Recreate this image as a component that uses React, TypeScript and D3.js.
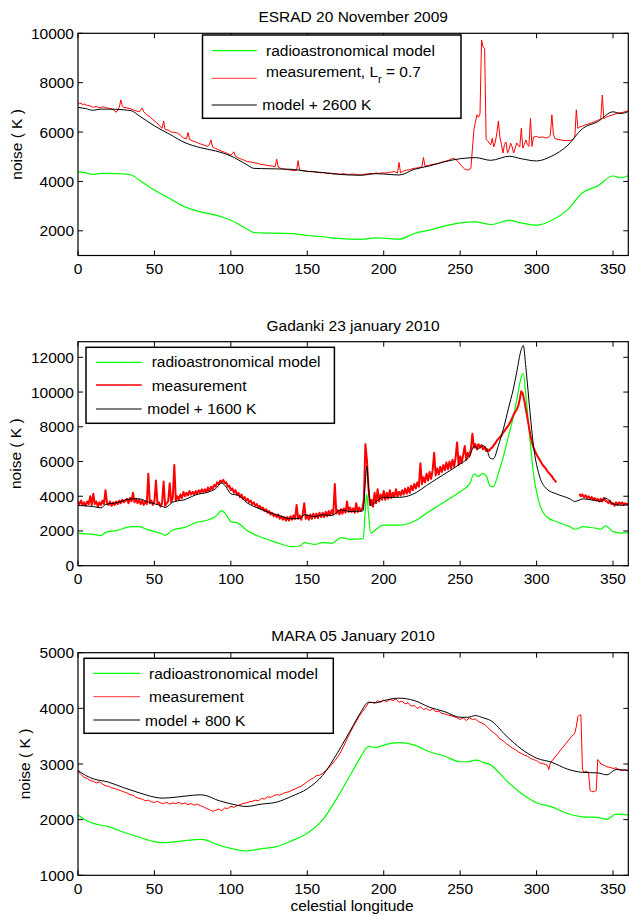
import * as d3 from "d3"

// celestial longitude ticks (shared by all panels)
const lonTicks = [0, 50, 100, 150, 200, 250, 300, 350]

// ---- ESRAD 20 November 2009 ----
const esradTicks = [2000, 4000, 6000, 8000, 10000]
const esradOffset = 2600
const esradModel: [number, number][] = [
  [0, 4400], [5, 4350], [10, 4280], [15, 4330], [20, 4330], [30, 4300], [35, 4260], [40, 4060],
  [50, 3650], [60, 3310], [70, 2970], [80, 2770], [90, 2635], [100, 2430], [110, 2095], [115, 1930],
  [120, 1920], [140, 1890], [150, 1810], [160, 1760], [170, 1690], [185, 1650], [195, 1715], [200, 1700],
  [210, 1660], [220, 1890], [230, 2030], [240, 2200], [250, 2320], [260, 2365], [270, 2255], [282, 2420],
  [290, 2320], [300, 2230], [310, 2430], [320, 2840], [330, 3540], [340, 3820], [350, 4220], [355, 4150],
  [360, 4230],
]
const esradMeas: [number, number][] = [
  [0, 7220], [1, 7150], [2, 7180], [3, 7100], [4, 7140], [6, 7080], [8, 7060], [10, 7000], [12, 7040],
  [14, 6980], [16, 7020], [18, 7000], [20, 6960], [22, 6940], [24, 6860], [25, 6800], [26, 6900],
  [27, 7000], [28, 7300], [29, 7050], [30, 7000], [32, 6980], [34, 6950], [36, 6900], [38, 6860],
  [40, 6820], [41, 6900], [42, 6980], [43, 6820], [45, 6700], [47, 6620], [49, 6500], [51, 6400],
  [53, 6280], [55, 6150], [56, 6450], [57, 6100], [59, 6080], [61, 6000], [63, 5990], [65, 5960],
  [67, 5870], [69, 5760], [71, 5720], [72, 5980], [73, 5700], [75, 5640], [77, 5600], [79, 5540],
  [81, 5500], [83, 5460], [85, 5420], [86, 5500], [87, 5680], [88, 5400], [90, 5330], [92, 5280],
  [94, 5220], [96, 5180], [98, 5120], [100, 5060], [102, 5200], [103, 5020], [105, 4950], [107, 4900],
  [109, 4850], [111, 4800], [113, 4790], [115, 4760], [117, 4740], [119, 4700], [121, 4680], [123, 4660],
  [125, 4640], [127, 4620], [129, 4600], [130, 4900], [131, 4580], [133, 4520], [135, 4500], [137, 4480],
  [139, 4460], [141, 4440], [143, 4450], [144, 4840], [145, 4450], [147, 4430], [149, 4420], [151, 4400],
  [153, 4410], [155, 4380], [157, 4370], [159, 4350], [161, 4360], [163, 4320], [165, 4340], [167, 4300],
  [169, 4320], [171, 4290], [173, 4310], [175, 4300], [177, 4280], [179, 4300], [181, 4290], [183, 4270],
  [185, 4260], [187, 4290], [189, 4300], [191, 4330], [193, 4310], [195, 4340], [197, 4320], [199, 4350],
  [201, 4340], [203, 4360], [205, 4380], [207, 4400], [209, 4340], [210, 4770], [211, 4350], [213, 4420],
  [215, 4460], [217, 4480], [219, 4520], [221, 4540], [223, 4560], [225, 4600], [226, 4970], [227, 4620],
  [229, 4640], [231, 4680], [233, 4700], [235, 4720], [237, 4760], [239, 4800], [241, 4830], [243, 4870],
  [245, 4930], [247, 4900], [249, 4780], [251, 4620], [253, 4500], [255, 4460], [257, 4520], [258, 5300],
  [259, 6100], [260, 6400], [261, 6700], [262, 6600], [263, 6750], [264, 9730], [265, 9450], [266, 9380],
  [267, 5700], [268, 5650], [269, 5550], [270, 5480], [271, 5750], [272, 5400], [273, 5600], [274, 5950],
  [275, 6450], [276, 5800], [277, 5500], [278, 5150], [279, 5500], [280, 5600], [281, 5150], [282, 5300],
  [283, 5550], [284, 5400], [285, 5150], [286, 5350], [287, 5560], [288, 5450], [289, 5400], [290, 6150],
  [291, 5350], [292, 5500], [293, 5680], [294, 5500], [295, 5420], [296, 6550], [297, 5420], [298, 5800],
  [300, 5820], [302, 5780], [304, 5800], [306, 5760], [308, 5800], [309, 5880], [310, 6700], [311, 5900],
  [312, 5740], [314, 5700], [316, 5680], [318, 5660], [320, 5650], [322, 5660], [324, 5700], [325, 5800],
  [326, 6900], [327, 6150], [328, 6200], [330, 6240], [332, 6300], [334, 6330], [336, 6380], [338, 6420],
  [340, 6480], [342, 6520], [343, 7500], [344, 6540], [346, 6620], [348, 6660], [350, 6700], [352, 6740],
  [354, 6780], [356, 6790], [358, 6830], [360, 6860],
]

// ---- Gadanki 23 january 2010 ----
const gadTicks = [0, 2000, 4000, 6000, 8000, 10000, 12000]
const gadOffset = 1600
const gadModel: [number, number][] = [
  [0, 1865], [10, 1808], [15, 1730], [18, 1920], [25, 2020], [35, 2250], [40, 2250], [45, 2095],
  [55, 1827], [57, 1750], [62, 2060], [70, 2210], [77, 2480], [85, 2635], [90, 2830], [94, 3170],
  [97, 2920], [100, 2540], [105, 2440], [110, 2060], [120, 1635], [130, 1330], [140, 1100], [145, 1135],
  [148, 1330], [155, 1230], [160, 1330], [166, 1290], [172, 1615], [178, 1520], [185, 1540], [186.6, 1580],
  [187.8, 3020], [188.9, 4130], [190, 3020], [191.5, 1860], [193.2, 1960], [199.7, 2340], [210.6, 2340],
  [221.6, 2630], [228, 3020], [234.7, 3400], [243.4, 3880], [249.9, 4260], [256.4, 4740], [259, 5280],
  [261.9, 5130], [264.7, 5320], [267.3, 5130], [269.5, 4600], [271.7, 4550], [275, 5320], [278.3, 6280],
  [281.5, 7430], [284.8, 8580], [287, 9540], [289.5, 10700], [291.3, 11080], [293, 9800], [295.7, 7240],
  [297.9, 5340], [301.2, 3780], [306.6, 2820], [313.1, 2530], [321.8, 2250], [325, 2100], [330.6, 2250],
  [335, 2200], [339.3, 2150], [342, 2100], [344.8, 2300], [350.2, 1960], [355, 1880], [360, 1900],
]
const gadMeasA: [number, number][] = [
  [0, 3700], [1, 3550], [2, 3750], [3, 3500], [4, 3650], [5, 3450], [6, 3700], [7, 3550], [8, 4000],
  [9, 3500], [10, 4150], [11, 3550], [12, 3700], [13, 3400], [14, 3650], [15, 3500], [16, 3750],
  [17, 3550], [18, 4350], [19, 3600], [20, 3500], [21, 3700], [22, 3450], [23, 3650], [24, 3500],
  [25, 3700], [26, 3550], [27, 3750], [28, 3600], [29, 3800], [30, 3650], [32, 3850], [33, 3600],
  [34, 3900], [35, 3700], [36, 4200], [37, 3650], [38, 3850], [39, 3600], [40, 3800], [41, 3550],
  [42, 3750], [43, 3500], [44, 3700], [45, 3550], [46, 5300], [47, 3600], [48, 3750], [49, 3500],
  [50, 3700], [51, 4900], [52, 3550], [53, 3650], [54, 3400], [55, 3600], [56, 4850], [57, 3450],
  [58, 3600], [59, 3700], [60, 4750], [61, 3650], [62, 3900], [63, 5800], [64, 3750], [65, 4000],
  [66, 3800], [67, 4100], [68, 3900], [69, 4250], [70, 4000], [71, 4200], [72, 4050], [73, 4300],
  [74, 4100], [75, 4250], [76, 4100], [77, 4300], [78, 4150], [79, 4350], [80, 4200], [81, 4400],
  [82, 4250], [83, 4400], [84, 4250], [85, 4500], [86, 4300], [87, 4550], [88, 4400], [89, 4650],
  [90, 4550], [91, 4800], [92, 4700], [93, 4900], [94, 4800], [95, 4950], [96, 4750], [97, 4800],
  [98, 4550], [99, 4600], [100, 4350], [101, 4450], [102, 4200], [103, 4350], [104, 4100], [105, 4200],
  [106, 3950], [107, 4100], [108, 3850], [109, 3950], [110, 3750], [111, 3850], [112, 3650], [113, 3750],
  [114, 3550], [115, 3650], [116, 3450], [117, 3550], [118, 3350], [119, 3450], [120, 3250], [121, 3350],
  [122, 3150], [123, 3250], [124, 3050], [125, 3150], [126, 2950], [127, 3050], [128, 2850], [129, 2950],
  [130, 2800], [131, 2950], [132, 2700], [133, 2850], [134, 2650], [135, 2800], [136, 2600], [137, 2800],
  [138, 2600], [139, 2850], [140, 2650], [141, 2900], [142, 2700], [143, 3500], [144, 2700], [145, 2900],
  [146, 2650], [147, 2950], [148, 3600], [149, 2700], [150, 2900], [151, 2650], [152, 2950], [153, 2700],
  [154, 3000], [155, 2750], [156, 3000], [157, 2750], [158, 3050], [159, 2800], [160, 3050], [161, 2800],
  [162, 3100], [163, 2850], [164, 3150], [165, 2900], [166, 3200], [167, 2950], [168, 4700], [169, 3000],
  [170, 3200], [171, 2950], [172, 3250], [173, 3000], [174, 3300], [175, 3050], [176, 3700], [177, 3100],
  [178, 3350], [179, 3100], [180, 3300], [181, 3050], [182, 3600], [183, 3100], [184, 3350], [185, 3150],
  [186, 3300], [187, 3800], [188, 7000], [189, 6100], [190, 4500], [191, 3500], [192, 3800], [193, 3400],
  [194, 4200], [195, 3600], [196, 4400], [197, 3700], [198, 4100], [199, 3800], [200, 4300], [201, 3800],
  [202, 4200], [203, 3850], [204, 4350], [205, 3900], [206, 4200], [207, 3950], [208, 4400], [209, 4000],
  [210, 4250], [211, 4050], [212, 4350], [213, 4100], [214, 4450], [215, 4150], [216, 4500], [217, 4200],
  [218, 4600], [219, 4350], [220, 4700], [221, 4450], [222, 4800], [223, 4550], [224, 5900], [225, 4700],
  [226, 5100], [227, 4800], [228, 5300], [229, 4900], [230, 5400], [231, 5000], [232, 5500], [233, 6500],
  [234, 5200], [235, 5600], [236, 5250], [237, 5700], [238, 5400], [239, 5800], [240, 5500], [241, 5950],
  [242, 5550], [243, 6000], [244, 5600], [245, 6100], [246, 5700], [247, 6200], [248, 7100], [249, 5800],
  [250, 6300], [251, 5900], [252, 6400], [253, 6900], [254, 6100], [255, 6500], [256, 6300], [257, 6700],
  [258, 7600], [259, 6800], [260, 7000], [261, 6700], [262, 7000], [263, 6800], [264, 6950], [265, 6700],
  [266, 6850], [267, 6600], [268, 6700], [269, 6600], [270, 6750], [271, 6800], [272, 6950], [273, 7050],
  [274, 7200], [275, 7300], [276, 7400], [277, 7500], [278, 7650], [279, 7750], [280, 7900], [281, 8000],
  [282, 8150], [283, 8300], [284, 8500], [285, 8700], [286, 8850], [287, 9000], [288, 9200], [289, 9600],
  [290, 10050], [291, 9900], [292, 9500], [293, 9000], [294, 8500], [295, 8000], [296, 7500], [297, 7100],
  [298, 6800], [299, 6600], [300, 6400], [301, 6250], [302, 6100], [303, 5950], [304, 5800], [305, 5700],
  [306, 5600], [307, 5450], [308, 5350], [309, 5250], [310, 5150], [311, 5000], [312, 4900], [313, 4800],
]
const gadMeasB: [number, number][] = [
  [328, 4150], [329, 4000], [330, 4100], [331, 3950], [332, 4050], [333, 3900], [334, 4000], [335, 3850],
  [336, 3950], [337, 3800], [338, 3900], [339, 3750], [340, 3850], [341, 3700], [342, 3850], [343, 3700],
  [344, 3900], [345, 3750], [346, 3700], [347, 3600], [348, 3750], [349, 3550], [350, 3600], [351, 3450],
  [352, 3650], [353, 3500], [354, 3650], [355, 3550], [356, 3650], [357, 3500], [358, 3600], [359, 3550],
  [360, 3550],
]

// ---- MARA 05 January 2010 ----
const maraTicks = [1000, 2000, 3000, 4000, 5000]
const maraOffset = 800
const maraModel: [number, number][] = [
  [0, 2084], [5, 1994], [10, 1934], [20, 1874], [30, 1773], [40, 1683], [50, 1605], [55, 1587],
  [60, 1593], [70, 1623], [80, 1647], [85, 1623], [90, 1563], [100, 1485], [110, 1437], [120, 1479],
  [130, 1515], [140, 1623], [150, 1755], [160, 1994], [170, 2413], [180, 2892], [185, 3132], [190, 3311],
  [195, 3300], [200, 3340], [210, 3383], [220, 3340], [230, 3220], [240, 3140], [250, 3040], [255, 3040],
  [260, 3070], [265, 3030], [270, 2980], [280, 2710], [290, 2470], [300, 2305], [310, 2230], [320, 2110],
  [330, 2050], [340, 2040], [346, 2005], [352, 2100], [360, 2084],
]
const maraMeas: [number, number][] = [
  [0, 2870], [2, 2810], [4, 2760], [6, 2740], [8, 2700], [10, 2690], [12, 2660], [14, 2680], [16, 2640],
  [18, 2610], [20, 2600], [22, 2570], [24, 2560], [26, 2540], [28, 2520], [30, 2500], [32, 2480],
  [34, 2450], [36, 2440], [38, 2400], [40, 2380], [42, 2370], [44, 2340], [46, 2350], [48, 2320],
  [50, 2310], [52, 2330], [54, 2300], [56, 2290], [58, 2310], [60, 2280], [62, 2300], [64, 2290],
  [66, 2310], [68, 2280], [70, 2300], [72, 2270], [74, 2290], [76, 2260], [78, 2280], [80, 2250],
  [82, 2230], [84, 2200], [86, 2180], [88, 2150], [90, 2170], [92, 2190], [94, 2160], [96, 2210],
  [98, 2200], [100, 2240], [102, 2220], [104, 2250], [106, 2270], [108, 2290], [110, 2300], [112, 2320],
  [114, 2330], [116, 2350], [118, 2340], [120, 2380], [122, 2370], [124, 2410], [126, 2400], [128, 2430],
  [130, 2450], [132, 2440], [134, 2470], [136, 2490], [138, 2500], [140, 2530], [142, 2550], [144, 2580],
  [146, 2600], [148, 2640], [150, 2680], [152, 2720], [154, 2750], [156, 2790], [158, 2800], [160, 2830],
  [162, 2880], [164, 2930], [166, 2990], [168, 3060], [170, 3130], [172, 3220], [174, 3330], [176, 3450],
  [178, 3560], [180, 3670], [182, 3760], [184, 3860], [186, 3940], [188, 4010], [190, 4100], [192, 4110],
  [194, 4090], [196, 4140], [198, 4110], [200, 4150], [202, 4120], [204, 4160], [206, 4140], [208, 4170],
  [210, 4110], [212, 4130], [214, 4080], [216, 4100], [218, 4040], [220, 4050], [222, 4000], [224, 4030],
  [226, 3980], [228, 4000], [230, 3960], [232, 3990], [234, 3940], [236, 3950], [238, 3910], [240, 3900],
  [242, 3880], [244, 3870], [246, 3850], [248, 3830], [250, 3800], [252, 3830], [254, 3780], [256, 3830],
  [258, 3800], [260, 3810], [262, 3760], [264, 3740], [266, 3710], [268, 3660], [270, 3600], [272, 3560],
  [274, 3520], [276, 3450], [278, 3420], [280, 3370], [282, 3330], [284, 3290], [286, 3260], [288, 3220],
  [290, 3190], [292, 3160], [294, 3140], [296, 3100], [298, 3080], [300, 3060], [302, 3020], [304, 3010],
  [306, 2990], [307, 2980], [308, 2900], [309, 3020], [323, 3500], [324, 3520], [325, 3560], [326, 3670],
  [327, 3850], [328, 3880], [329, 3880], [330, 2900], [331, 2850], [332, 2870], [333, 2860], [334, 2850],
  [335, 2520], [336, 2510], [337, 2500], [338, 2510], [339, 2520], [340, 3080], [341, 3050], [342, 3000],
  [344, 2980], [346, 2950], [348, 2940], [350, 2920], [352, 2930], [354, 2900], [356, 2880], [358, 2900],
  [360, 2880],
]

const FONT = "'Liberation Sans', Arial, Helvetica, sans-serif"
const FS = 15.5
const GREEN = "#00ff00"
const RED = "#ff0000"

const x = d3.scaleLinear().domain([0, 360]).range([78, 628.3])

type Legend = {
  box: [number, number, number, number]
  lineX: [number, number]
  rows: { y: number; tx: number; ty: number }[]
  labels: React.ReactNode[]
}

type PanelProps = {
  id: string
  title: string
  titleY: number
  top: number
  bottom: number
  yDomain: [number, number]
  yTicks: number[]
  yLabelX: number
  model: [number, number][]
  offset: number
  meas: [number, number][][]
  measWidth: number
  legend: Legend
}

function Panel(p: PanelProps) {
  const y = d3.scaleLinear().domain(p.yDomain).range([p.bottom, p.top])
  const [x0, x1] = x.range()
  const smooth = d3
    .line<[number, number]>()
    .x((d) => x(d[0]))
    .y((d) => y(d[1]))
    .curve(d3.curveMonotoneX)
  const raw = d3
    .line<[number, number]>()
    .x((d) => x(d[0]))
    .y((d) => y(d[1]))
  const total = p.model.map(([l, v]) => [l, v + p.offset] as [number, number])
  const cx = (x0 + x1) / 2
  const cy = (p.top + p.bottom) / 2
  const tk = 5
  const lg = p.legend
  const colors = [GREEN, RED, "#000"]

  return (
    <g>
      <defs>
        <clipPath id={p.id}>
          <rect x={x0} y={p.top} width={x1 - x0} height={p.bottom - p.top} />
        </clipPath>
      </defs>
      <text x={cx} y={p.titleY} textAnchor="middle" fontSize={FS}>
        {p.title}
      </text>
      {/* ticks */}
      {lonTicks.map((t) => (
        <g key={"x" + t}>
          <line x1={x(t)} x2={x(t)} y1={p.bottom} y2={p.bottom - tk} stroke="#000" />
          <line x1={x(t)} x2={x(t)} y1={p.top} y2={p.top + tk} stroke="#000" />
          <text x={x(t)} y={p.bottom + 18.5} textAnchor="middle" fontSize={FS}>
            {t}
          </text>
        </g>
      ))}
      {p.yTicks.map((t) => (
        <g key={"y" + t}>
          <line x1={x0} x2={x0 + tk} y1={y(t)} y2={y(t)} stroke="#000" />
          <line x1={x1} x2={x1 - tk} y1={y(t)} y2={y(t)} stroke="#000" />
          <text x={x0 - 4} y={y(t) + 5.5} textAnchor="end" fontSize={FS}>
            {t}
          </text>
        </g>
      ))}
      <text
        transform={`translate(${p.yLabelX},${cy}) rotate(-90)`}
        textAnchor="middle"
        fontSize={FS}
      >
        noise ( K )
      </text>
      {/* series */}
      <g clipPath={`url(#${p.id})`} fill="none">
        <path d={smooth(p.model) || ""} stroke={GREEN} strokeWidth={1.2} />
        {p.meas.map((m, i) => (
          <path key={i} d={raw(m) || ""} stroke={RED} strokeWidth={p.measWidth} strokeLinejoin="round" />
        ))}
        <path d={smooth(total) || ""} stroke="#000" strokeWidth={1} />
      </g>
      <rect x={x0} y={p.top} width={x1 - x0} height={p.bottom - p.top} fill="none" stroke="#000" strokeWidth={1.2} />
      {/* legend */}
      <rect x={lg.box[0]} y={lg.box[1]} width={lg.box[2]} height={lg.box[3]} fill="#fff" stroke="#000" strokeWidth={1.5} />
      {lg.rows.map((r, i) => (
        <g key={i}>
          <line x1={lg.lineX[0]} x2={lg.lineX[1]} y1={r.y} y2={r.y} stroke={colors[i]} strokeWidth={i === 1 ? p.measWidth * 0.8 : 1.2} />
          <text x={r.tx} y={r.ty} fontSize={FS}>
            {lg.labels[i]}
          </text>
        </g>
      ))}
    </g>
  )
}

export default function App() {
  return (
    <svg
      width={629}
      height={916}
      style={{ position: "absolute", left: 0, top: 0, background: "#fff" }}
      fontFamily={FONT}
    >
      <rect width={629} height={916} fill="#fff" />
      <Panel
        id="c1"
        title="ESRAD 20 November 2009"
        titleY={21.7}
        top={33.3}
        bottom={255.5}
        yDomain={[1000, 10000]}
        yTicks={esradTicks}
        yLabelX={22}
        model={esradModel}
        offset={esradOffset}
        meas={[esradMeas]}
        measWidth={1}
        legend={{
          box: [202.5, 35, 258.5, 83.3],
          lineX: [211.7, 256.7],
          rows: [
            { y: 50.7, tx: 266, ty: 56 },
            { y: 78.3, tx: 266, ty: 76.7 },
            { y: 105, tx: 262.3, ty: 110 },
          ],
          labels: [
            "radioastronomical model",
            <>
              measurement, L
              <tspan dy={6} fontSize={11}>
                r
              </tspan>
              <tspan dy={-6}> = 0.7</tspan>
            </>,
            `model + ${esradOffset} K`,
          ],
        }}
      />
      <Panel
        id="c2"
        title="Gadanki 23 january 2010"
        titleY={330.7}
        top={341.7}
        bottom={565.7}
        yDomain={[0, 12900]}
        yTicks={gadTicks}
        yLabelX={21}
        model={gadModel}
        offset={gadOffset}
        meas={[gadMeasA, gadMeasB]}
        measWidth={2}
        legend={{
          box: [86, 347.3, 248.4, 76],
          lineX: [96, 141.7],
          rows: [
            { y: 362.3, tx: 151.7, ty: 367.3 },
            { y: 385, tx: 151.7, ty: 390.7 },
            { y: 409, tx: 147.3, ty: 414 },
          ],
          labels: ["radioastronomical model", "measurement", `model + ${gadOffset} K`],
        }}
      />
      <Panel
        id="c3"
        title="MARA 05 January 2010"
        titleY={640.7}
        top={652.7}
        bottom={875.3}
        yDomain={[1000, 5000]}
        yTicks={maraTicks}
        yLabelX={30}
        model={maraModel}
        offset={maraOffset}
        meas={[maraMeas]}
        measWidth={1}
        legend={{
          box: [84, 658.3, 249.3, 75],
          lineX: [93.3, 140],
          rows: [
            { y: 673.3, tx: 149, ty: 678.7 },
            { y: 696.7, tx: 149, ty: 701.7 },
            { y: 720, tx: 145, ty: 726 },
          ],
          labels: ["radioastronomical model", "measurement", `model + ${maraOffset} K`],
        }}
      />
      <text x={352} y={911} textAnchor="middle" fontSize={FS}>
        celestial longitude
      </text>
    </svg>
  )
}
